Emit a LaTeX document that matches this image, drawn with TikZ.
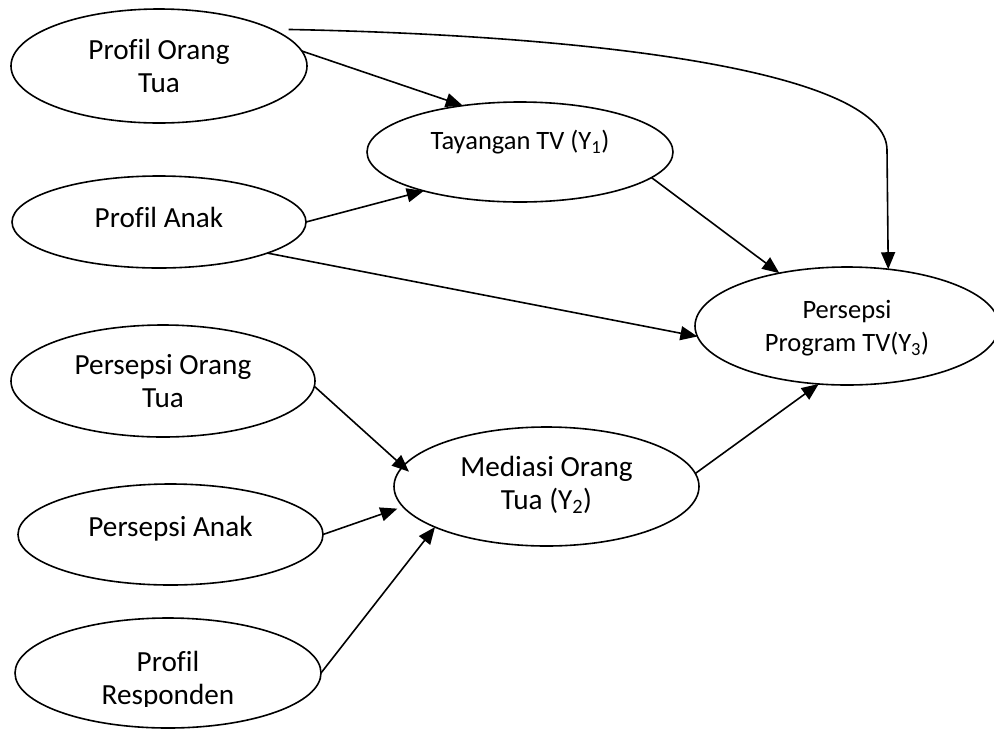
\documentclass[tikz,border=0pt]{standalone}
\usepackage{fontspec}
\setmainfont{Carlito}[Ligatures=NoCommon]
\usetikzlibrary{shapes.geometric,arrows.meta}
\begin{document}
\begin{tikzpicture}[x=1pt,y=-1pt,
  oval/.style={draw, ellipse, line width=1.6pt, inner sep=0pt, outer sep=0pt},
  lbl/.style={align=center, inner sep=0pt, font=\fontsize{29.2}{33}\selectfont},
  lblsm/.style={align=center, inner sep=0pt, font=\fontsize{26.5}{33}\selectfont},
  link/.style={line width=1.6pt, -{Triangle[length=17pt,width=14pt]}}]
\useasboundingbox (0,0) rectangle (994,729);

% variables (ellipses)
\node[oval, minimum width=296pt, minimum height=114pt] (POT)  at (159,66)    {};
\node[oval, minimum width=306pt, minimum height=100pt] (TAY)  at (520,152)   {};
\node[oval, minimum width=294pt, minimum height=92pt]  (PA)   at (159,222)   {};
\node[oval, minimum width=304pt, minimum height=118pt] (PPT)  at (847,326)   {};
\node[oval, minimum width=304pt, minimum height=112pt] (PEOT) at (163,381)   {};
\node[oval, minimum width=305pt, minimum height=119pt] (MED)  at (546.5,486.5) {};
\node[oval, minimum width=305pt, minimum height=101pt] (PEA)  at (170.5,534.5) {};
\node[oval, minimum width=306pt, minimum height=110pt] (PR)   at (168,673)   {};

% labels
\node[lbl]   (POTt)  at (POT.center)               {Profil Orang\\Tua};
\node[lblsm] (TAYt)  at ([yshift=10pt]TAY.center)  {Tayangan TV (Y\textsubscript{1})};
\node[lbl]   (PAt)   at ([yshift=5pt]PA.center)    {Profil Anak};
\node[lblsm] (PPTt)  at ([yshift=-2.5pt]PPT.center) {Persepsi\\Program TV(Y\textsubscript{3})};
\node[lbl]   (PEOTt) at (PEOT.center)              {Persepsi Orang\\Tua};
\node[lbl]   (MEDt)  at ([yshift=1.5pt]MED.center) {Mediasi Orang\\Tua (Y\textsubscript{2})};
\node[lbl]   (PEAt)  at ([yshift=6pt]PEA.center)   {Persepsi Anak};
\begin{scope}
  \clip (0,600) rectangle (994,706);
  \node[lbl] (PRt) at ([yshift=-7.5pt]PR.center) {Profil\\Responden};
\end{scope}

% paths
\coordinate (bend) at (887,150);
\draw[link] ([yshift=9pt]POT.12) .. controls (620,36) and (887,75) .. (bend) -- (PPT.54.9);
\draw[link] (POT.6.6) -- (TAY.141);
\draw[link] (PA.0) -- (TAY.202);
\draw[link] (PA.344.8) -- (PPT.184.2);
\draw[link] (TAY.349.9) -- (PPT.142.5);
\draw[link, shorten >=-8pt] (PEOT.358.5) -- (MED.172.5);
\draw[link, shorten >=6pt] (PEA.0) -- (MED.188.1);
\draw[link] (PR.0) -- (MED.200.5);
\draw[link] (MED.5.1) -- (PPT.244.6);
\end{tikzpicture}
\end{document}
